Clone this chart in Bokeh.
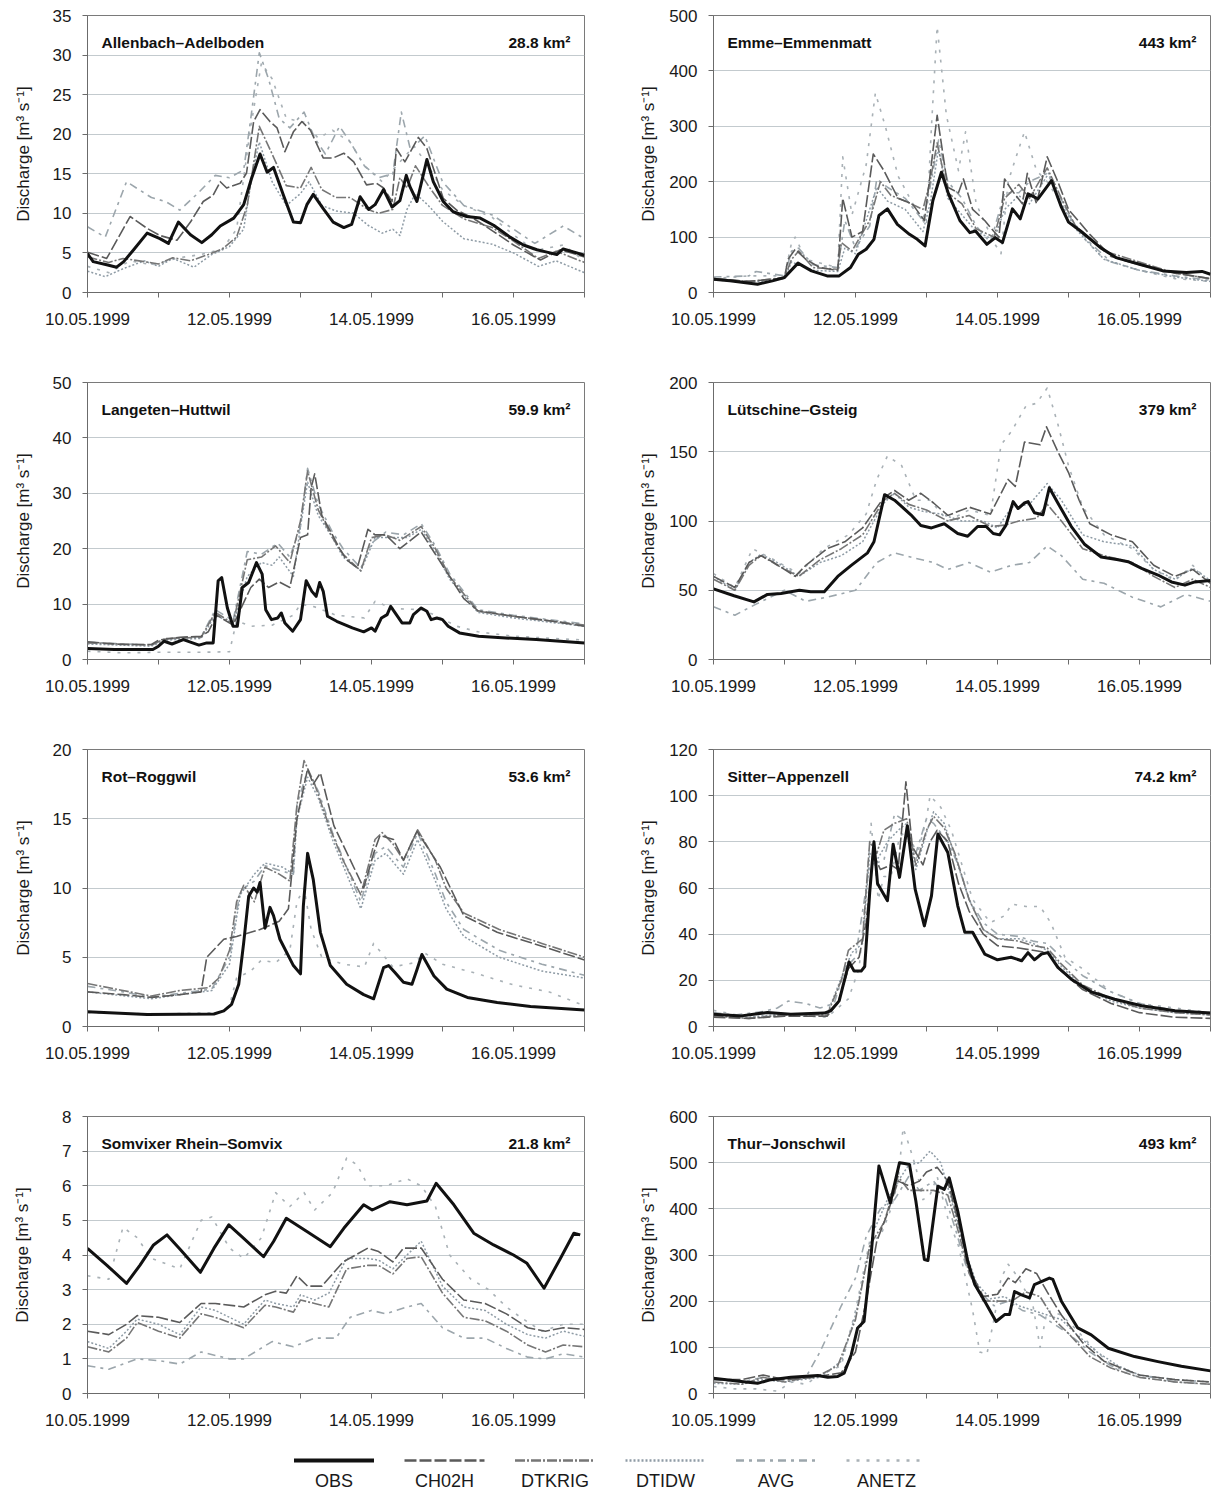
from bokeh.plotting import figure
from bokeh.layouts import column, row
from bokeh.models import Range1d, FixedTicker, Label
from bokeh.embed import file_html
from bokeh.resources import INLINE
from bokeh.core.properties import value

SERIES = ["OBS", "CH02H", "DTKRIG", "DTIDW", "AVG", "ANETZ"]
DAY_TICKS = [0, 1, 2, 3, 4, 5, 6, 7]
DAY_LABELS = {0: "10.05.1999", 2: "12.05.1999", 4: "14.05.1999", 6: "16.05.1999"}

# ---------------- Allenbach-Adelboden (x = days since 10.05.1999 00:00) ----------------
allen_obs = [(0,4.9),(0.08,3.9),(0.27,3.5),(0.41,3.2),(0.51,3.9),(0.65,5.4),(0.84,7.5),(1.02,6.8),(1.14,6.2),(1.28,8.9),(1.45,7.3),(1.61,6.3),(1.75,7.3),(1.87,8.4),(2.06,9.4),(2.2,11.1),(2.31,14.4),(2.43,17.5),(2.53,15.2),(2.62,15.8),(2.76,12.3),(2.9,8.9),(3.0,8.8),(3.09,11.1),(3.18,12.4),(3.32,10.6),(3.46,8.9),(3.61,8.2),(3.72,8.6),(3.84,12.1),(3.96,10.5),(4.05,11.1),(4.17,13.0),(4.29,10.8),(4.4,11.6),(4.49,14.8),(4.54,13.4),(4.64,11.5),(4.78,16.8),(4.87,14.0),(5.01,11.5),(5.15,10.2),(5.34,9.6),(5.53,9.4),(5.72,8.5),(5.95,7.0),(6.14,6.0),(6.33,5.4),(6.47,5.1),(6.61,4.8),(6.7,5.5),(6.82,5.2),(7.0,4.7)]
allen_ch02h = [(0,5.1),(0.27,4.3),(0.6,9.6),(0.84,8.1),(1.02,7.2),(1.26,6.6),(1.45,8.9),(1.63,11.5),(1.77,12.3),(1.87,14.0),(1.96,13.2),(2.15,13.8),(2.24,15.1),(2.34,21.6),(2.43,23.1),(2.57,21.6),(2.67,20.8),(2.78,17.8),(2.9,20.3),(3.02,21.6),(3.14,20.5),(3.32,17.0),(3.46,17.0),(3.61,17.6),(3.75,16.5),(3.93,13.6),(4.07,13.8),(4.17,13.2),(4.29,11.5),(4.35,18.2),(4.47,16.5),(4.66,19.6),(4.78,18.2),(5.01,11.9),(5.2,10.4),(5.43,9.4),(5.72,7.7),(6.0,6.0),(6.38,4.1),(6.66,5.4),(7.0,4.5)]
allen_dtkrig = [(0,4.5),(0.3,3.8),(0.5,4.3),(0.8,3.9),(1.0,3.6),(1.2,4.4),(1.45,4.0),(1.7,4.8),(1.9,5.5),(2.1,7.0),(2.25,11),(2.42,21),(2.6,17.5),(2.8,13.5),(3.0,13.2),(3.15,15.8),(3.3,13),(3.5,12),(3.7,12),(3.95,10.5),(4.1,10),(4.3,10.5),(4.4,14.5),(4.5,13.2),(4.62,16),(4.8,13.5),(5.0,11),(5.3,9.3),(5.7,8.2),(6.0,6.5),(6.35,4.3),(6.6,5.2),(7.0,3.8)]
allen_dtidw = [(0,2.7),(0.25,2.0),(0.5,3.0),(0.8,4.0),(1.0,3.3),(1.2,4.3),(1.5,3.2),(1.75,4.8),(2.0,5.8),(2.2,8.0),(2.32,15),(2.42,19),(2.6,14),(2.8,11),(3.0,12.5),(3.12,14),(3.3,11),(3.5,10.3),(3.75,10),(3.95,8.5),(4.15,7.5),(4.3,8),(4.4,7.2),(4.5,10.5),(4.62,12.5),(4.8,11),(5.0,9),(5.3,6.8),(5.7,6.1),(6.0,5.0),(6.35,3.3),(6.6,4.0),(7.0,2.5)]
allen_avg = [(0,8.3),(0.25,7.0),(0.55,14.0),(0.9,12),(1.1,11.5),(1.3,10.4),(1.55,12.5),(1.8,14.8),(2.0,14.5),(2.2,15.5),(2.3,22),(2.42,30.3),(2.55,27),(2.7,22),(2.85,20.8),(3.05,22.8),(3.2,19.5),(3.35,17.5),(3.55,21),(3.7,19),(3.9,16),(4.1,14.5),(4.3,15),(4.42,22.8),(4.55,18),(4.75,19.8),(5.0,14),(5.3,11),(5.7,9.8),(6.0,8),(6.3,6.2),(6.7,8.4),(7.0,6.8)]
allen_anetz = [(0,3.3),(0.3,2.5),(0.6,4.0),(0.9,3.5),(1.3,4.4),(1.6,4.8),(1.9,5.5),(2.1,8),(2.3,21),(2.45,29),(2.6,27),(2.8,22),(3.05,21.5),(3.25,19.5),(3.45,20.5),(3.7,19),(3.9,16),(4.15,14),(4.35,16),(4.6,18.5),(4.8,16),(5.0,13),(5.3,11),(5.7,9.5),(6.0,7.3),(6.3,5.3),(6.7,6),(7.0,4.0)]

# ---------------- Emme-Emmenmatt ----------------
emme_obs = [(0,24),(0.23,21),(0.62,15),(0.83,21),(1.0,27),(1.19,53),(1.38,39),(1.6,30),(1.77,30),(1.93,45),(2.04,69),(2.15,78),(2.26,96),(2.33,139),(2.45,151),(2.59,123),(2.76,105),(2.87,96),(2.98,84),(3.09,166),(3.21,217),(3.31,178),(3.47,130),(3.61,108),(3.69,111),(3.85,87),(3.97,99),(4.07,90),(4.21,151),(4.32,133),(4.43,178),(4.57,169),(4.76,202),(4.9,154),(5.0,127),(5.17,111),(5.45,81),(5.67,63),(6.0,51),(6.33,39),(6.66,36),(6.88,38),(7.0,33)]
emme_ch02h = [(0,25),(0.5,20),(0.9,25),(1.0,27),(1.05,60),(1.15,78),(1.3,60),(1.5,45),(1.75,40),(1.82,170),(1.95,100),(2.1,110),(2.25,250),(2.4,220),(2.6,170),(2.8,160),(2.97,130),(3.03,190),(3.15,320),(3.3,190),(3.45,180),(3.52,205),(3.65,150),(3.82,130),(3.95,110),(4.02,100),(4.1,205),(4.2,185),(4.35,160),(4.42,215),(4.55,160),(4.7,245),(4.85,200),(5.0,150),(5.3,105),(5.6,65),(6.0,50),(6.5,35),(7.0,25)]
emme_dtkrig = [(0,25),(0.5,20),(1.0,27),(1.1,60),(1.2,75),(1.4,45),(1.75,42),(1.8,90),(1.95,75),(2.2,130),(2.35,200),(2.5,175),(2.7,165),(2.95,150),(3.05,200),(3.15,270),(3.3,180),(3.5,160),(3.7,115),(3.95,100),(4.1,170),(4.3,195),(4.45,170),(4.7,225),(4.9,170),(5.1,120),(5.5,75),(6.0,55),(6.5,35),(7.0,25)]
emme_dtidw = [(0,23),(0.5,18),(1.0,25),(1.1,55),(1.4,40),(1.75,38),(1.85,80),(2.0,70),(2.3,190),(2.45,165),(2.7,150),(2.95,110),(3.05,160),(3.17,260),(3.3,170),(3.5,140),(3.7,110),(3.95,95),(4.1,150),(4.3,175),(4.45,160),(4.72,215),(4.9,160),(5.1,115),(5.5,60),(6.0,40),(6.5,28),(7.0,20)]
emme_avg = [(0,28),(0.5,30),(0.6,38),(1.0,30),(1.1,75),(1.2,80),(1.4,50),(1.75,45),(1.85,130),(2.0,80),(2.2,120),(2.3,205),(2.45,190),(2.7,170),(2.95,130),(3.05,190),(3.17,275),(3.3,200),(3.5,170),(3.7,120),(3.9,90),(4.1,180),(4.3,180),(4.45,200),(4.7,215),(4.85,180),(5.05,130),(5.3,90),(5.6,55),(6.0,40),(6.5,30),(7.0,22)]
emme_anetz = [(0,25),(0.5,30),(1.0,30),(1.1,90),(1.15,100),(1.3,60),(1.75,45),(1.82,245),(1.95,140),(2.15,230),(2.28,360),(2.42,300),(2.6,210),(2.85,150),(3.0,120),(3.07,300),(3.15,480),(3.28,320),(3.45,220),(3.55,290),(3.7,160),(3.95,90),(4.05,70),(4.15,200),(4.25,240),(4.38,290),(4.55,220),(4.7,200),(4.95,150),(5.2,100),(5.5,60),(6.0,40),(6.5,25),(7.0,20)]

# ---------------- Langeten-Huttwil ----------------
lang_obs = [(0,2.0),(0.38,1.8),(0.92,1.8),(1.0,2.4),(1.08,3.3),(1.19,2.8),(1.35,3.6),(1.57,2.6),(1.68,3.0),(1.77,3.0),(1.84,14.2),(1.89,14.8),(1.97,9.3),(2.05,6.0),(2.11,6.0),(2.18,13.0),(2.27,13.9),(2.38,17.5),(2.46,15.4),(2.51,9.0),(2.59,7.2),(2.68,7.5),(2.73,8.4),(2.78,6.6),(2.89,5.1),(3.0,7.2),(3.08,14.2),(3.16,12.3),(3.22,11.4),(3.27,13.9),(3.32,12.3),(3.38,7.8),(3.51,6.9),(3.73,5.7),(3.89,5.0),(4.0,5.7),(4.05,5.1),(4.14,7.5),(4.22,8.1),(4.27,9.6),(4.35,8.1),(4.43,6.6),(4.54,6.6),(4.59,8.1),(4.7,9.3),(4.78,8.7),(4.84,7.2),(4.92,7.5),(5.0,7.2),(5.08,6.0),(5.24,4.8),(5.51,4.2),(5.89,3.9),(6.32,3.6),(7.0,3.0)]
lang_ch02h = [(0,3.2),(0.5,2.7),(0.9,2.7),(1.0,3.5),(1.3,4.0),(1.6,4.2),(1.7,5.0),(1.82,8.0),(2.05,6.2),(2.3,13),(2.42,14.5),(2.55,13),(2.7,14),(2.85,13),(3.0,22),(3.1,22.5),(3.15,31),(3.2,33.5),(3.3,26),(3.45,22.5),(3.55,20),(3.65,18),(3.8,16.5),(3.95,23.5),(4.05,22.5),(4.2,22.5),(4.4,20),(4.55,21.5),(4.7,23),(4.85,20),(5.1,15),(5.3,11),(5.5,8.8),(6.0,7.8),(6.5,7.0),(7.0,6.0)]
lang_dtkrig = [(0,3.0),(0.9,2.6),(1.1,3.8),(1.6,4.0),(1.8,8.5),(2.05,6.5),(2.25,18),(2.45,18.5),(2.65,20.5),(2.85,17.5),(3.0,25),(3.1,34),(3.25,27),(3.45,22),(3.6,19),(3.85,16),(4.0,22),(4.2,22.5),(4.4,21.5),(4.7,24),(4.9,20),(5.1,15),(5.5,8.7),(6.0,7.8),(7.0,6.2)]
lang_dtidw = [(0,2.8),(0.9,2.4),(1.1,3.5),(1.6,3.8),(1.8,8),(2.05,6.5),(2.25,15),(2.45,17.5),(2.6,17),(2.7,18.5),(2.9,15),(3.0,24),(3.1,32),(3.25,26),(3.45,22),(3.6,18.5),(3.85,16),(4.05,22),(4.3,22),(4.5,22),(4.7,23.5),(4.9,19.5),(5.1,14.5),(5.5,8.5),(6.0,7.5),(7.0,6.0)]
lang_avg = [(0,3.1),(0.9,2.6),(1.1,3.7),(1.6,4.1),(1.8,9),(2.05,7),(2.25,19.5),(2.45,19),(2.68,21),(2.85,18.5),(3.0,24),(3.1,34.5),(3.25,28),(3.45,23),(3.6,20),(3.85,16.5),(4.0,21),(4.2,23),(4.45,22.5),(4.7,24.5),(4.9,20.5),(5.1,15.5),(5.5,9),(6.0,8),(7.0,6.4)]
lang_anetz = [(0,1.5),(0.5,1.2),(1.0,1.3),(1.6,1.3),(2.0,1.4),(2.1,7),(2.3,6),(2.6,6.2),(2.9,8),(3.0,10),(3.2,9.5),(3.5,8.0),(3.9,7.5),(4.05,10.5),(4.3,9.2),(4.7,9),(4.9,8),(5.2,6),(5.5,5),(6.0,4.2),(7.0,3.5)]

# ---------------- Lütschine-Gsteig ----------------
luet_obs = [(0,51),(0.29,46),(0.57,41.6),(0.76,47),(0.95,47.6),(1.21,50),(1.37,48.9),(1.56,48.9),(1.75,60),(1.94,68),(2.17,77),(2.26,85),(2.41,119),(2.55,115),(2.78,104.5),(2.92,96.7),(3.07,95),(3.25,98),(3.44,91),(3.58,89),(3.72,96),(3.84,96),(3.94,91),(4.03,90),(4.12,97),(4.22,114),(4.29,109),(4.38,113),(4.43,114),(4.52,106),(4.64,104.5),(4.73,124),(4.85,113),(5.04,96),(5.23,83),(5.46,74),(5.7,72),(5.84,70.6),(6.03,65.8),(6.26,61),(6.45,56),(6.64,53.7),(6.78,56),(7.0,57)]
luet_ch02h = [(0,60),(0.3,52),(0.5,70),(0.67,75),(0.85,70),(1.15,60),(1.3,68),(1.6,80),(1.85,85),(2.1,95),(2.4,117),(2.55,122),(2.75,115),(2.92,120),(3.1,113),(3.3,104),(3.6,110),(3.9,105),(4.05,120),(4.15,130),(4.25,125),(4.38,157),(4.6,155),(4.69,168),(4.85,150),(5.0,135),(5.15,115),(5.3,98),(5.6,90),(5.9,85),(6.2,68),(6.5,60),(6.75,65),(7.0,55)]
luet_dtkrig = [(0,58),(0.3,50),(0.5,68),(0.67,75),(0.9,68),(1.2,60),(1.5,72),(1.8,80),(2.1,90),(2.4,115),(2.55,120),(2.75,112),(3.0,108),(3.3,100),(3.6,104),(3.9,96),(4.1,97),(4.3,100),(4.55,102),(4.7,112),(4.9,100),(5.2,80),(5.5,75),(5.9,70),(6.2,60),(6.5,52),(6.75,58),(7.0,52)]
luet_dtidw = [(0,60),(0.3,50),(0.5,70),(0.67,76),(0.9,70),(1.2,60),(1.5,70),(1.8,75),(2.1,85),(2.4,113),(2.55,120),(2.75,110),(2.95,107),(3.2,105),(3.5,100),(3.8,100),(4.0,95),(4.2,110),(4.45,112),(4.7,127),(4.9,115),(5.2,90),(5.5,85),(5.9,82),(6.2,65),(6.5,58),(6.75,66),(7.0,57)]
luet_avg = [(0,38),(0.3,32),(0.6,40),(1.0,50),(1.3,42),(1.6,45),(2.0,50),(2.3,70),(2.55,77),(2.85,73),(3.1,70),(3.3,65),(3.6,70),(3.9,63),(4.2,68),(4.45,70),(4.7,82),(4.9,75),(5.2,58),(5.5,55),(5.9,45),(6.3,38),(6.65,47),(7.0,42)]
luet_anetz = [(0,62),(0.3,52),(0.55,80),(0.85,72),(1.2,62),(1.55,80),(1.9,90),(2.15,105),(2.3,130),(2.45,147),(2.65,140),(2.85,115),(3.05,115),(3.3,100),(3.6,108),(3.9,104),(4.05,155),(4.2,165),(4.4,183),(4.55,185),(4.7,196),(4.85,170),(5.0,140),(5.2,110),(5.5,90),(5.9,80),(6.2,65),(6.5,57),(6.75,68),(7.0,55)]

# ---------------- Rot-Roggwil ----------------
rot_obs = [(0,1.06),(0.84,0.87),(1.78,0.9),(1.92,1.13),(2.03,1.6),(2.13,3.05),(2.2,6.06),(2.27,9.4),(2.34,10.0),(2.39,9.7),(2.43,10.4),(2.5,7.1),(2.57,8.6),(2.62,8.0),(2.71,6.3),(2.9,4.4),(3.0,3.8),(3.04,8.7),(3.1,12.5),(3.18,10.6),(3.28,6.8),(3.42,4.4),(3.65,3.05),(3.89,2.3),(4.03,2.0),(4.17,4.25),(4.24,4.4),(4.33,3.9),(4.45,3.2),(4.57,3.05),(4.64,4.1),(4.71,5.2),(4.88,3.65),(5.06,2.7),(5.35,2.1),(5.77,1.73),(6.24,1.44),(7.0,1.2)]
rot_ch02h = [(0,2.5),(0.5,2.3),(0.9,2.1),(1.3,2.3),(1.6,2.5),(1.68,5.0),(1.92,6.3),(2.1,6.5),(2.43,7.0),(2.7,7.6),(2.83,8.5),(2.95,15),(3.1,18.6),(3.18,17.5),(3.28,18.3),(3.47,14.5),(3.75,11.5),(3.89,10),(4.03,12.5),(4.12,13.8),(4.31,13.5),(4.45,12),(4.64,14.1),(4.97,11.5),(5.3,8),(5.77,6.8),(6.4,5.8),(7.0,4.8)]
rot_dtkrig = [(0,3.1),(0.5,2.6),(0.9,2.2),(1.3,2.6),(1.7,2.8),(1.85,3.5),(2.0,5.5),(2.1,9),(2.2,10.2),(2.35,9.0),(2.5,11.5),(2.7,11),(2.85,10.5),(2.95,16),(3.05,19.2),(3.2,17.5),(3.4,14.5),(3.6,12.0),(3.85,9.5),(4.05,13.5),(4.15,14.0),(4.3,13.2),(4.45,12.0),(4.65,14.2),(4.9,12),(5.05,10),(5.3,8.2),(5.8,7.0),(6.4,6.0),(7.0,5.0)]
rot_dtidw = [(0,2.5),(0.9,2.0),(1.3,2.3),(1.75,2.6),(2.0,4.5),(2.15,9.5),(2.35,11.0),(2.5,11.8),(2.75,11.5),(2.9,11),(2.95,15),(3.1,18.0),(3.25,16.5),(3.45,13.5),(3.65,11.0),(3.85,8.5),(4.05,12.0),(4.2,12.5),(4.45,11.0),(4.65,13.5),(4.9,10.5),(5.05,8.5),(5.3,6.5),(5.8,5.0),(6.4,4.0),(7.0,3.5)]
rot_avg = [(0,2.9),(0.5,2.5),(0.9,2.1),(1.3,2.4),(1.75,2.7),(2.0,5),(2.15,9.8),(2.35,10.5),(2.5,11.6),(2.75,11.2),(2.9,11),(2.95,16),(3.1,18.5),(3.25,17.0),(3.45,14),(3.65,11.5),(3.85,9.0),(4.05,12.5),(4.2,13),(4.45,11.5),(4.65,14.0),(4.9,11),(5.05,9),(5.3,7),(5.8,5.5),(6.4,4.5),(7.0,3.7)]
rot_anetz = [(0,1.0),(1.0,0.9),(1.85,1.0),(2.0,1.5),(2.1,3.5),(2.3,4.0),(2.45,4.8),(2.65,4.6),(2.85,5.5),(2.95,9),(3.05,10),(3.15,7),(3.3,5),(3.6,4.5),(3.9,4.3),(4.03,6.0),(4.3,4.3),(4.6,4.6),(4.75,5.3),(5.0,4.5),(5.5,3.8),(6.0,3.0),(6.5,2.5),(7.0,1.5)]

# ---------------- Sitter-Appenzell ----------------
sit_obs = [(0,5.3),(0.39,4.6),(0.76,6.1),(1.09,5.3),(1.56,5.8),(1.65,6.8),(1.77,11.1),(1.91,28),(1.98,24),(2.08,24),(2.13,26),(2.2,58),(2.26,80),(2.31,62),(2.45,54.5),(2.53,79),(2.62,64.6),(2.73,87),(2.84,59.5),(2.97,43.6),(3.07,56.6),(3.16,83.4),(3.3,75.4),(3.44,52.3),(3.54,40.8),(3.65,40.8),(3.82,31.4),(4.0,28.9),(4.19,30),(4.34,28.5),(4.43,32),(4.52,28.9),(4.62,31.4),(4.71,32),(4.85,25.6),(5.04,20.5),(5.32,15),(5.65,11.8),(6.03,9.0),(6.5,6.8),(7.0,5.8)]
sit_ch02h = [(0,4),(0.5,3.5),(1.0,4.5),(1.6,4.5),(1.75,10),(1.9,25),(2.05,30),(2.15,45),(2.25,75),(2.35,68),(2.5,70),(2.6,68),(2.71,106),(2.8,78),(2.95,70),(3.05,80),(3.15,85),(3.3,80),(3.45,62),(3.6,50),(3.8,40),(4.0,35),(4.3,34),(4.5,33),(4.7,32),(4.9,24),(5.2,16),(5.6,10),(6.0,6),(6.5,4),(7.0,3.5)]
sit_dtkrig = [(0,4.5),(0.5,3.5),(1.0,5),(1.6,5),(1.8,20),(1.9,33),(2.1,38),(2.2,80),(2.3,75),(2.4,85),(2.55,88),(2.72,90),(2.85,70),(3.0,85),(3.1,91),(3.25,86),(3.4,75),(3.6,55),(3.8,42),(4.0,38),(4.3,37),(4.5,35),(4.7,34),(4.9,27),(5.2,18),(5.6,12),(6.0,8),(6.5,6),(7.0,5)]
sit_dtidw = [(0,5),(0.5,4),(1.0,5.5),(1.6,5.5),(1.85,25),(1.95,32),(2.1,36),(2.2,75),(2.3,72),(2.45,80),(2.6,85),(2.72,88),(2.85,68),(3.0,84),(3.1,93),(3.25,88),(3.4,74),(3.6,55),(3.8,42),(4.0,38),(4.3,38),(4.5,36),(4.7,33),(4.9,26),(5.2,17),(5.6,11),(6.0,8),(6.5,6),(7.0,5)]
sit_avg = [(0,6),(0.3,5),(0.7,6.5),(0.9,8),(1.05,11),(1.3,10),(1.5,8),(1.7,10),(1.85,25),(2.0,30),(2.2,70),(2.4,72),(2.55,92),(2.65,90),(2.72,88),(2.85,75),(3.0,90),(3.1,88),(3.3,80),(3.45,70),(3.6,55),(3.8,45),(4.0,40),(4.3,39),(4.5,37),(4.7,36),(4.9,30),(5.2,22),(5.6,15),(6.0,10),(6.5,7),(7.0,6)]
sit_anetz = [(0,7),(0.5,4),(1.0,5),(1.6,4),(1.9,12),(2.05,25),(2.15,58),(2.22,88),(2.32,55),(2.4,65),(2.5,65),(2.62,82),(2.72,85),(2.85,72),(3.0,90),(3.05,100),(3.2,95),(3.35,85),(3.5,70),(3.65,55),(3.9,45),(4.1,48),(4.2,53),(4.4,52),(4.6,52),(4.75,45),(4.95,30),(5.2,25),(5.6,15),(6.0,10),(6.5,8),(7.0,6)]

# ---------------- Somvixer Rhein-Somvix ----------------
som_obs = [(0,4.19),(0.27,3.71),(0.55,3.18),(0.74,3.71),(0.93,4.29),(1.12,4.58),(1.31,4.15),(1.59,3.5),(1.78,4.19),(1.99,4.87),(2.2,4.48),(2.48,3.95),(2.62,4.39),(2.8,5.06),(3.09,4.68),(3.42,4.24),(3.61,4.77),(3.89,5.45),(4.01,5.3),(4.26,5.54),(4.5,5.45),(4.78,5.56),(4.91,6.07),(5.16,5.45),(5.44,4.63),(5.72,4.29),(6.0,4.0),(6.19,3.76),(6.43,3.04),(6.66,3.9),(6.85,4.63),(6.94,4.58)]
som_ch02h = [(0,1.8),(0.3,1.7),(0.55,2.0),(0.7,2.25),(1.0,2.2),(1.3,2.05),(1.6,2.6),(1.8,2.6),(2.2,2.5),(2.5,2.85),(2.65,2.95),(2.8,2.9),(2.95,3.4),(3.1,3.1),(3.3,3.1),(3.6,3.8),(3.95,4.2),(4.1,4.1),(4.3,3.8),(4.45,4.2),(4.7,4.2),(5.0,3.3),(5.3,2.7),(5.6,2.6),(5.9,2.3),(6.2,1.9),(6.45,1.8),(6.7,1.9),(7.0,1.85)]
som_dtkrig = [(0,1.35),(0.3,1.2),(0.55,1.6),(0.7,2.05),(1.0,1.8),(1.3,1.6),(1.6,2.3),(1.8,2.2),(2.2,1.9),(2.5,2.55),(2.65,2.5),(2.9,2.35),(3.0,2.7),(3.2,2.6),(3.4,2.5),(3.65,3.6),(3.95,3.7),(4.1,3.7),(4.3,3.45),(4.5,3.9),(4.7,3.95),(5.0,2.9),(5.3,2.2),(5.6,2.1),(5.9,1.8),(6.2,1.4),(6.45,1.2),(6.7,1.4),(7.0,1.35)]
som_dtidw = [(0,1.5),(0.3,1.3),(0.55,1.8),(0.7,2.15),(1.0,2.0),(1.3,1.7),(1.6,2.5),(1.8,2.4),(2.2,2.0),(2.5,2.7),(2.65,2.6),(2.9,2.5),(3.0,2.85),(3.2,2.7),(3.4,2.9),(3.65,3.9),(3.95,3.9),(4.1,3.85),(4.3,3.6),(4.5,4.0),(4.7,4.4),(5.0,3.1),(5.3,2.5),(5.6,2.4),(5.9,2.0),(6.2,1.7),(6.45,1.6),(6.7,1.8),(7.0,1.65)]
som_avg = [(0,0.8),(0.3,0.7),(0.7,1.0),(1.0,0.95),(1.3,0.85),(1.6,1.2),(2.0,1.0),(2.2,1.0),(2.6,1.5),(2.9,1.35),(3.2,1.6),(3.5,1.6),(3.7,2.2),(4.0,2.4),(4.2,2.3),(4.5,2.5),(4.7,2.6),(5.0,1.9),(5.3,1.6),(5.6,1.6),(5.9,1.3),(6.2,1.05),(6.45,1.0),(6.7,1.15),(7.0,1.05)]
som_anetz = [(0,3.4),(0.3,3.3),(0.5,4.8),(0.7,4.5),(0.9,3.9),(1.3,3.6),(1.6,5.0),(1.75,5.1),(2.0,4.2),(2.2,3.9),(2.45,4.5),(2.65,5.8),(2.85,5.4),(3.05,5.8),(3.2,5.3),(3.45,5.8),(3.65,6.8),(3.8,6.6),(3.95,6.0),(4.2,6.0),(4.5,6.2),(4.7,6.0),(4.9,5.4),(5.1,4.0),(5.4,3.3),(5.65,3.0),(5.9,2.5),(6.1,2.2),(6.4,1.8),(6.7,2.0),(7.0,2.0)]

# ---------------- Thur-Jonschwil ----------------
thur_obs = [(0,33),(0.39,26),(0.62,22),(0.81,30),(1.09,35),(1.47,39),(1.61,35),(1.75,37),(1.84,44),(1.94,84),(2.03,142),(2.12,156),(2.22,301),(2.33,493),(2.41,453),(2.49,413),(2.62,500),(2.69,498),(2.76,496),(2.85,417),(2.97,290),(3.02,288),(3.16,449),(3.25,442),(3.32,467),(3.44,395),(3.58,287),(3.68,236),(3.82,200),(3.98,156),(4.1,171),(4.17,171),(4.24,221),(4.33,214),(4.45,207),(4.52,236),(4.73,250),(4.78,247),(4.9,200),(5.13,142),(5.32,127),(5.56,98),(5.93,80),(6.26,69),(6.59,59),(7.0,49)]
thur_ch02h = [(0,30),(0.4,30),(0.7,40),(1.0,30),(1.4,35),(1.8,45),(2.0,90),(2.15,200),(2.3,330),(2.45,390),(2.6,460),(2.75,450),(2.9,460),(3.0,480),(3.15,490),(3.3,460),(3.45,370),(3.6,270),(3.8,210),(4.0,215),(4.15,250),(4.25,240),(4.4,270),(4.55,260),(4.7,220),(4.9,170),(5.2,110),(5.5,70),(6.0,40),(6.5,30),(7.0,25)]
thur_dtkrig = [(0,25),(0.4,20),(0.7,35),(1.0,25),(1.5,40),(1.75,60),(2.0,160),(2.2,320),(2.4,370),(2.6,470),(2.75,440),(2.9,440),(3.1,440),(3.3,430),(3.45,350),(3.6,260),(3.8,200),(4.0,200),(4.2,200),(4.4,220),(4.6,210),(4.8,160),(5.0,130),(5.3,80),(5.6,55),(6.0,35),(6.5,25),(7.0,20)]
thur_dtidw = [(0,22),(0.4,20),(0.7,30),(1.0,25),(1.5,35),(1.8,70),(2.0,170),(2.25,350),(2.45,420),(2.6,460),(2.75,495),(2.9,500),(3.05,525),(3.2,500),(3.35,420),(3.5,330),(3.7,240),(3.9,205),(4.1,210),(4.3,190),(4.5,180),(4.7,170),(4.9,160),(5.1,130),(5.4,90),(5.7,60),(6.0,40),(6.5,30),(7.0,25)]
thur_avg = [(0,30),(0.4,25),(0.7,35),(1.0,28),(1.3,35),(1.5,90),(1.8,190),(2.0,250),(2.15,340),(2.35,400),(2.55,420),(2.75,470),(2.9,440),(3.1,460),(3.25,430),(3.4,360),(3.55,280),(3.75,220),(3.95,190),(4.15,200),(4.35,180),(4.6,170),(4.8,150),(5.0,130),(5.3,90),(5.6,60),(6.0,40),(6.5,25),(7.0,20)]
thur_anetz = [(0,15),(0.3,10),(0.6,10),(0.9,5),(1.1,25),(1.3,20),(1.5,40),(1.8,60),(2.0,180),(2.2,330),(2.35,340),(2.5,400),(2.6,460),(2.67,575),(2.75,540),(2.85,490),(2.95,420),(3.05,430),(3.15,470),(3.3,380),(3.45,320),(3.55,250),(3.65,180),(3.75,90),(3.85,85),(3.95,160),(4.05,250),(4.15,280),(4.3,250),(4.5,190),(4.6,100),(4.7,180),(4.9,170),(5.1,140),(5.4,90),(5.7,50),(6.0,35),(6.5,25),(7.0,20)]

# panel: name, catchment area, y max, y step, series lists in SERIES order
PANELS = [
    ("Allenbach\u2013Adelboden", "28.8 km\u00b2", 35, 5, [allen_obs, allen_ch02h, allen_dtkrig, allen_dtidw, allen_avg, allen_anetz]),
    ("Emme\u2013Emmenmatt", "443 km\u00b2", 500, 100, [emme_obs, emme_ch02h, emme_dtkrig, emme_dtidw, emme_avg, emme_anetz]),
    ("Langeten\u2013Huttwil", "59.9 km\u00b2", 50, 10, [lang_obs, lang_ch02h, lang_dtkrig, lang_dtidw, lang_avg, lang_anetz]),
    ("L\u00fctschine\u2013Gsteig", "379 km\u00b2", 200, 50, [luet_obs, luet_ch02h, luet_dtkrig, luet_dtidw, luet_avg, luet_anetz]),
    ("Rot\u2013Roggwil", "53.6 km\u00b2", 20, 5, [rot_obs, rot_ch02h, rot_dtkrig, rot_dtidw, rot_avg, rot_anetz]),
    ("Sitter\u2013Appenzell", "74.2 km\u00b2", 120, 20, [sit_obs, sit_ch02h, sit_dtkrig, sit_dtidw, sit_avg, sit_anetz]),
    ("Somvixer Rhein\u2013Somvix", "21.8 km\u00b2", 8, 1, [som_obs, som_ch02h, som_dtkrig, som_dtidw, som_avg, som_anetz]),
    ("Thur\u2013Jonschwil", "493 km\u00b2", 600, 100, [thur_obs, thur_ch02h, thur_dtkrig, thur_dtidw, thur_avg, thur_anetz]),
]

STYLE = {
    "OBS":    dict(color="#111111", width=3.0, dash="solid"),
    "CH02H":  dict(color="#5a5a5a", width=1.6, dash="12 3"),
    "DTKRIG": dict(color="#767676", width=1.6, dash="10 2 2 2"),
    "DTIDW":  dict(color="#8e9ba5", width=1.5, dash="2 2"),
    "AVG":    dict(color="#9ca6ac", width=1.6, dash="8 5 3 5"),
    "ANETZ":  dict(color="#a9b1b6", width=1.6, dash="3 7"),
}
DRAW_ORDER = ["ANETZ", "AVG", "DTIDW", "DTKRIG", "CH02H", "OBS"]

FONT = "Liberation Sans"
FRAME_W, FRAME_H = 497, 277


def make_panel(idx, name, area, ymax, ystep, data):
    left_col = idx % 2 == 0
    last_row = idx >= 6
    p = figure(frame_width=FRAME_W, frame_height=FRAME_H,
               min_border_left=87 if left_col else 107,
               min_border_right=22 if left_col else 1,
               min_border_top=15, min_border_bottom=37 if last_row else 75,
               x_range=Range1d(0, 7), y_range=Range1d(0, ymax),
               output_backend="svg", toolbar_location=None,
               background_fill_color="white", border_fill_color="white")
    p.outline_line_color = "#7a7a7a"
    p.outline_line_width = 1
    p.xgrid.visible = False
    p.ygrid.grid_line_color = "#c3cace"
    p.ygrid.grid_line_width = 1
    yt = list(range(0, ymax + 1, ystep))
    p.yaxis.ticker = FixedTicker(ticks=yt)
    p.xaxis.ticker = FixedTicker(ticks=DAY_TICKS)
    p.xaxis.major_label_overrides = {d: DAY_LABELS.get(d, "") for d in DAY_TICKS}
    for ax in (p.xaxis[0], p.yaxis[0]):
        ax.axis_line_color = "#6b6b6b"
        ax.major_tick_line_color = "#6b6b6b"
        ax.major_tick_out = 5
        ax.major_tick_in = 0
        ax.minor_tick_line_color = None
        ax.major_label_text_font = FONT
        ax.major_label_text_font_size = "17px"
        ax.major_label_text_color = "#1a1a1a"
    p.xaxis.major_label_standoff = 15
    p.yaxis.major_label_standoff = 11
    wdig = len(str(ymax)) * 9.45
    p.yaxis.axis_label = "Discharge [m\u00b3 s\u207b\u00b9]"
    p.yaxis.axis_label_text_font = FONT
    p.yaxis.axis_label_text_font_size = "17px"
    p.yaxis.axis_label_text_font_style = "normal"
    p.yaxis.axis_label_text_color = "#1a1a1a"
    p.yaxis.axis_label_standoff = int(round(36 - wdig))

    series = dict(zip(SERIES, data))
    for key in DRAW_ORDER:
        pts = series[key]
        st = STYLE[key]
        p.line([t for t, _ in pts], [q for _, q in pts], line_color=st["color"],
               line_width=st["width"], line_dash=st["dash"], line_join="round")

    p.add_layout(Label(x=14, y=FRAME_H - 27, x_units="screen", y_units="screen",
                       text=name, text_font=FONT, text_font_size="15.5px",
                       text_font_style="bold", text_color="#111111",
                       text_baseline="alphabetic", text_align="left"))
    p.add_layout(Label(x=FRAME_W - 14, y=FRAME_H - 27, x_units="screen", y_units="screen",
                       text=area, text_font=FONT, text_font_size="15.5px",
                       text_font_style="bold", text_color="#111111",
                       text_baseline="alphabetic", text_align="right"))
    return p


panels = [make_panel(i, *pp) for i, pp in enumerate(PANELS)]

# legend strip below the panels
LEG_W, LEG_H = 1203, 60
leg = figure(frame_width=LEG_W, frame_height=LEG_H, min_border=0,
             x_range=Range1d(0, LEG_W), y_range=Range1d(LEG_H, 0),
             output_backend="svg", toolbar_location=None)
leg.axis.visible = False
leg.grid.visible = False
leg.outline_line_color = None
for i, key in enumerate(SERIES):
    cx = 333.5 + i * 110.5
    st = STYLE[key]
    leg.line([cx - 40, cx + 40], [30, 30], line_color=st["color"],
             line_width=st["width"] + (1.0 if key == "OBS" else 0.8), line_dash=st["dash"])
    leg.text([cx], [50], text=[key], text_font=value(FONT), text_font_size="18px",
             text_align="center", text_baseline="middle", text_color="#1a1a1a")

layout = column(row(panels[0], panels[1]), row(panels[2], panels[3]),
                row(panels[4], panels[5]), row(panels[6], panels[7]), leg)

open("out.html", "w").write(file_html(layout, INLINE))
